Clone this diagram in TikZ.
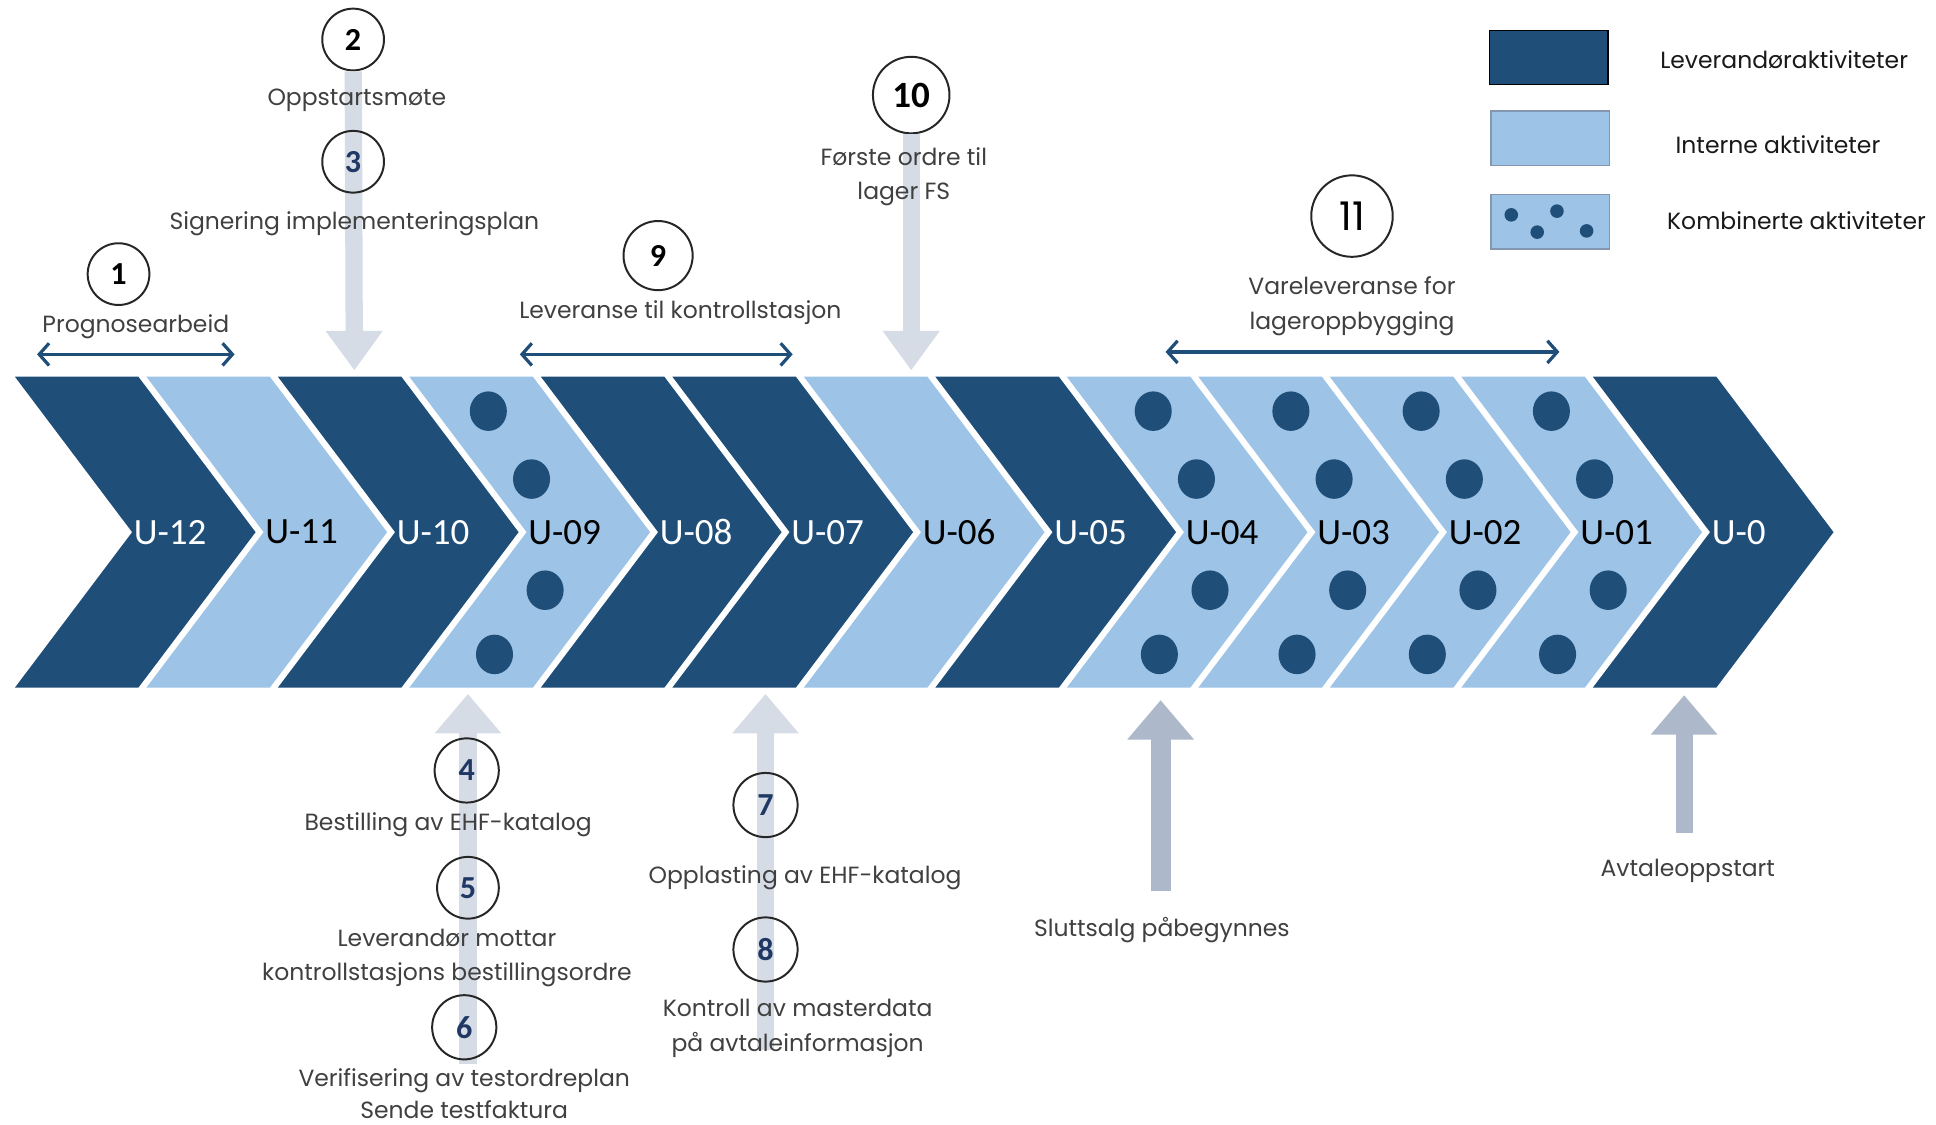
\documentclass[tikz,border=0pt]{standalone}
\usepackage{fontspec}
\setmainfont{Poppins}
\newfontfamily\calib{Carlito}
\usetikzlibrary{arrows.meta}
\definecolor{navy}{HTML}{1F4E79}
\definecolor{sky}{HTML}{9DC3E6}
\definecolor{mist}{HTML}{D6DCE5}
\definecolor{steel}{HTML}{ADB9CA}
\definecolor{ink}{HTML}{404040}
\definecolor{numblue}{HTML}{1F3864}
\definecolor{rim}{HTML}{8497B0}
\tikzset{
  ulabel/.style={font=\calib\fontsize{15}{15}\selectfont, anchor=west, inner sep=0pt},
  circ/.style={circle, draw=black!85, line width=0.8pt, minimum size=#1, inner sep=0pt},
  num/.style={font=\calib\bfseries\fontsize{13}{13}\selectfont},
  lbl/.style={font=\fontsize{9.5}{14}\selectfont, text=ink, align=center, inner sep=0pt, yshift=-1.5pt},
  keytext/.style={font=\fontsize{9.5}{14}\selectfont, text=black!90, inner sep=0pt},
  keybox/.style={rectangle, minimum width=48pt, minimum height=22pt, line width=0.6pt},
  span/.style={draw=navy, line width=1.3pt, {Straight Barb[length=4pt,width=9pt]}-{Straight Barb[length=4pt,width=9pt]}},
  downarrow/.style={draw=mist, line width=7pt, -{Triangle[width=22pt,length=16pt]}},
  uparrow/.style={draw=#1, line width=7pt, -{Triangle[width=26pt,length=16pt]}},
  kdot/.style={fill=navy},
}
\begin{document}
\begin{tikzpicture}[x=0.5pt, y=-0.5pt]
  \fill[white] (0,0) rectangle (1568,911);
  \useasboundingbox (0,0) rectangle (1568,911);

  % markers above and below the band
  \node[circ=25pt] (c2) at (286,32) {};
  \node[circ=31pt] (c10) at (738,77) {};
  \coordinate (t3) at (287,300);
  \coordinate (t10) at (738,300);
  \draw[downarrow] (c2) -- (t3);
  \draw[downarrow] (c10) -- (t10);

  \coordinate (b4) at (379,862);
  \coordinate (t4) at (379,562);
  \coordinate (b7) at (620,850);
  \coordinate (t7) at (620,562);
  \coordinate (b12) at (940,722);
  \coordinate (t12) at (940,567);
  \coordinate (b13) at (1364,675);
  \coordinate (t13) at (1364,563);
  \draw[uparrow=mist] (b4) -- (t4);
  \draw[uparrow=mist] (b7) -- (t7);
  \draw[uparrow=steel, line width=8pt] (b12) -- (t12);
  \draw[uparrow=steel] (b13) -- (t13);

  % the weeks (last field: shift of the dots, -99 = no dots)
  \foreach \i/\lab/\fc/\tc/\d in {0/12/navy/white/-99, 1/11/sky/black/-99,
      2/10/navy/white/-99, 3/09/sky/black/-6, 4/08/navy/white/-99,
      5/07/navy/white/-99, 6/06/sky/black/-99, 7/05/navy/white/-99,
      8/04/sky/black/0, 9/03/sky/black/5, 10/02/sky/black/4,
      11/01/sky/black/3, 12/0/navy/white/-99}{
    \pgfmathsetmacro\L{12+106.5*\i}
    \fill[\fc] (\L,305) -- ++(100,0) -- ++(95,126) -- ++(-95,126)
      -- ++(-100,0) -- ++(95,-126) -- cycle;
    \ifnum\d>-99
      \foreach \dx/\dy in {70/333,105/388,116/478,75/530}
        \fill[kdot] (\L+\dx+\d,\dy) ellipse [x radius=15, y radius=16];
    \fi
    \node[ulabel, text=\tc] (u\i) at (\L+96,431) {U-\lab};
  }

  % spans
  \coordinate (p1a) at (30,287);
  \coordinate (p1b) at (190,287);
  \coordinate (p9a) at (421,287);
  \coordinate (p9b) at (642,287);
  \coordinate (p11a) at (944,285);
  \coordinate (p11b) at (1263,285);
  \draw[span] (p1a) -- (p1b);
  \draw[span] (p9a) -- (p9b);
  \draw[span] (p11a) -- (p11b);

  \node[circ=25pt, num] (c1) at (96,222) {1};
  \node[num] at (c2) {2};
  \node[circ=25pt, num, text=numblue] (c3) at (286,131) {3};
  \node[circ=28pt, num] (c9) at (533,207) {9};
  \node[num, font=\calib\bfseries\fontsize{15}{15}\selectfont] at (c10) {10};
  \node[circ=33pt, font=\fontsize{16}{16}\selectfont] (c11) at (1095,175) {11};
  \node[circ=26pt, num, text=numblue] (c4) at (378,624) {4};
  \node[circ=25pt, num, text=numblue] (c5) at (379,719) {5};
  \node[circ=26pt, num, text=numblue] (c6) at (376,832) {6};
  \node[circ=26pt, num, text=numblue] (c7) at (620,652) {7};
  \node[circ=26pt, num, text=numblue] (c8) at (620,769) {8};

  \node[lbl] (l1) at (110,262) {Prognosearbeid};
  \node[lbl] (l2) at (289,78) {Oppstartsmøte};
  \node[lbl] (l3) at (287,178) {Signering implementeringsplan};
  \node[lbl] (l9) at (551,250) {Leveranse til kontrollstasjon};
  \node[lbl] (l10) at (732,140) {Første ordre til\\lager FS};
  \node[lbl] (l11) at (1095,245) {Vareleveranse for\\lageroppbygging};
  \node[lbl] (l4) at (363,665) {Bestilling av EHF-katalog};
  \node[lbl] (l5) at (362,773) {Leverandør mottar\\kontrollstasjons bestillingsordre};
  \node[lbl, font=\fontsize{9.5}{13}\selectfont] (l6) at (376,883) {Verifisering av testordreplan\\Sende testfaktura};
  \node[lbl] (l7) at (652,708) {Opplasting av EHF-katalog};
  \node[lbl] (l8) at (646,830) {Kontroll av masterdata\\på avtaleinformasjon};
  \node[lbl] (l12) at (941,750) {Sluttsalg påbegynnes};
  \node[lbl] (l13) at (1367,702) {Avtaleoppstart};

  % legend
  \node[keybox, fill=navy, draw=black] (kd) at (1254.5,46.5) {};
  \node[keybox, fill=sky, draw=rim] (kl) at (1255.5,112) {};
  \node[keybox, fill=sky, draw=rim] (kc) at (1255.5,179.5) {};
  \foreach \x/\y in {1224/174,1245/188,1261/171,1285/187}
    \fill[kdot] (\x,\y) circle [radius=5.5];
  \node[keytext] (td) at (1445,48) {Leverandøraktiviteter};
  \node[keytext] (tl) at (1440,117) {Interne aktiviteter};
  \node[keytext] (tc) at (1455,179) {Kombinerte aktiviteter};
\end{tikzpicture}
\end{document}
